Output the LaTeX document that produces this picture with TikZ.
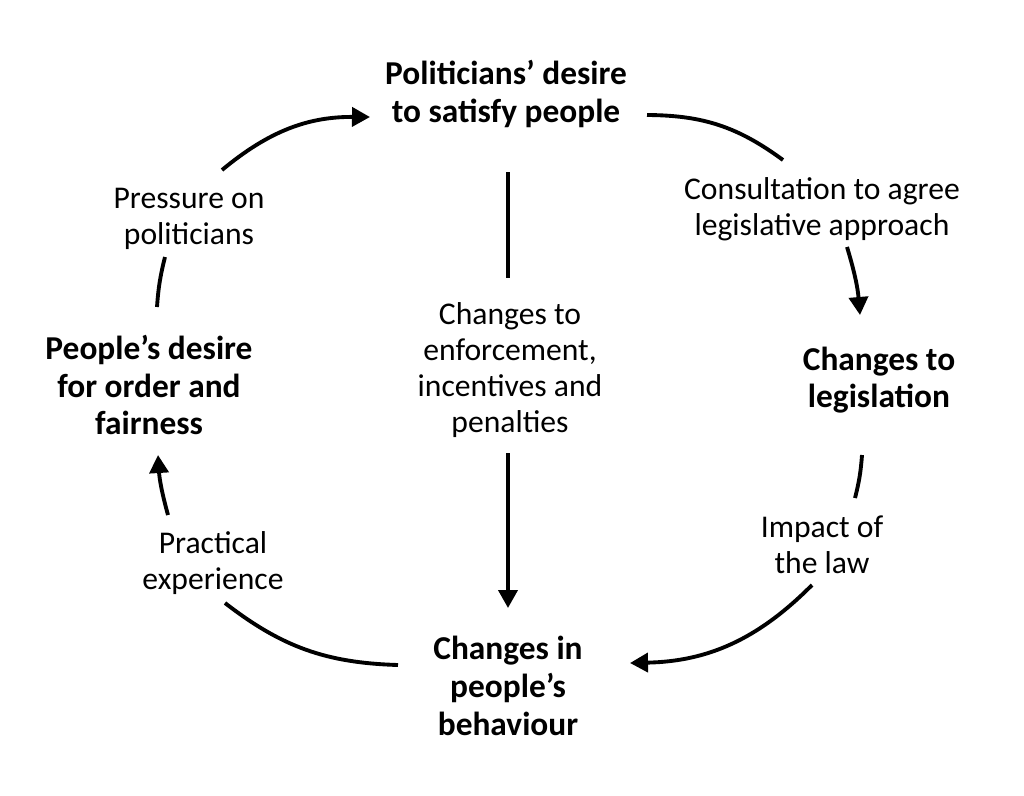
\documentclass[tikz,border=0pt]{standalone}
\usepackage{fontspec}
\setmainfont{Carlito}
\usepackage{tikz}
\usetikzlibrary{positioning, arrows.meta, calc}

\begin{document}
\begin{tikzpicture}[
    x=0.02cm, y=0.02cm,
    key/.style={align=center, inner sep=0pt, font=\bfseries\fontsize{19}{21.5}\selectfont},
    lbl/.style={align=center, inner sep=0pt, font=\fontsize{18}{20.5}\selectfont},
    link/.style={line width=2.2pt},
    flow/.style={link, -{Triangle[length=0.36cm, width=0.38cm]}}
]
    \useasboundingbox (0,0) rectangle (1024,-795);

    % the four stages of the cycle
    \node[key] (pol) at (506,-94) {Politicians’ desire\\to satisfy people};
    \node[key] (leg) at (879,-380) {Changes to\\legislation};
    \node[key] (beh) at (508,-686) {Changes in\\people’s\\behaviour};
    \node[key] (ppl) at (149,-385) {People’s desire\\for order and\\fairness};

    % what links them
    \node[lbl] (cons) at (822,-209) {Consultation to agree\\legislative approach};
    \node[lbl] (law) at (822,-545) {Impact of\\the law};
    \node[lbl] (prac) at (213,-563) {Practical\\experience};
    \node[lbl] (press) at (189,-219) {Pressure on\\politicians};
    \node[lbl] (enf) at (510,-370) {Changes to\\enforcement,\\incentives and\\penalties};

    \draw[link] ($(pol)+(141,-21)$) to[bend left=18] ($(cons)+(-39,49)$);
    \draw[flow] ($(cons)+(25,-38)$) to[bend left=6] ($(leg)+(-19,65)$);
    \draw[link] ($(leg)+(-17,-75)$) to[bend left=5] ($(law)+(33,47)$);
    \draw[flow] ($(law)+(-10,-40)$) to[bend left=22] ($(beh)+(122,23)$);
    \draw[link] ($(beh)+(-110,21)$) to[bend left=18] ($(prac)+(12,-40)$);
    \draw[flow] ($(prac)+(-45,48)$) to[bend left=6] ($(ppl)+(9,-70)$);
    \draw[link] ($(ppl)+(8,78)$) to[bend left=5] ($(press)+(-24,-38)$);
    \draw[flow] ($(press)+(33,49)$) to[bend left=20] ($(pol)+(-136,-23)$);
    \draw[link] ($(pol)+(2,-78)$) -- ($(enf)+(-2,92)$);
    \draw[flow] ($(enf)+(-2,-83)$) -- ($(beh)+(0,78)$);
\end{tikzpicture}
\end{document}
